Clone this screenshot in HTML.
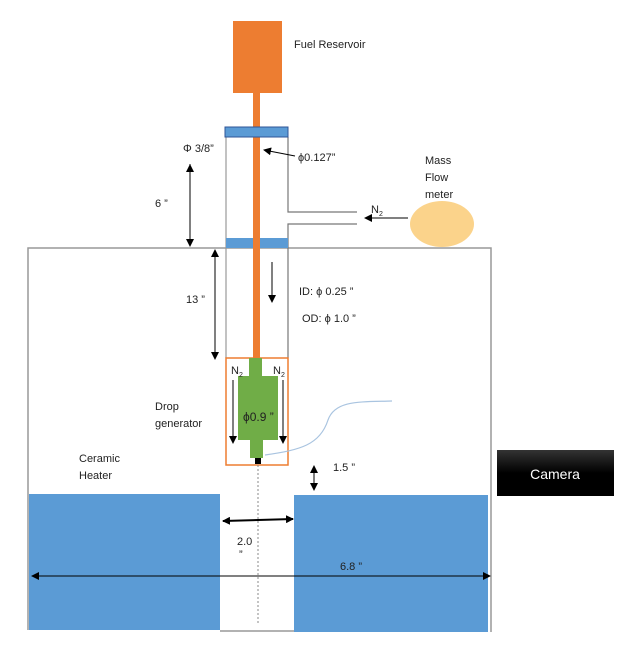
<!DOCTYPE html>
<html><head><meta charset="utf-8"><style>
html,body{margin:0;padding:0;background:#fff;}
svg{display:block;font-family:"Liberation Sans",sans-serif;}
</style></head><body>
<svg width="631" height="651" viewBox="0 0 631 651" xmlns="http://www.w3.org/2000/svg">
<defs>
<marker id="a" markerWidth="8" markerHeight="8" refX="7" refY="4" orient="auto" markerUnits="userSpaceOnUse"><path d="M0,0 L8,4 L0,8 z" fill="#000"/></marker>
<linearGradient id="cg" x1="0" y1="0" x2="0" y2="1"><stop offset="0" stop-color="#333"/><stop offset="0.5" stop-color="#000"/><stop offset="1" stop-color="#000"/></linearGradient>
</defs>
<!-- main box -->
<path d="M28,630 L28,248 L491,248 L491,632" fill="none" stroke="#999" stroke-width="1.5"/>
<line x1="220" y1="631" x2="294" y2="631" stroke="#999" stroke-width="1.5"/>
<!-- heaters -->
<rect x="29" y="494" width="191" height="136" fill="#5b9bd5"/>
<rect x="294" y="495" width="194" height="137" fill="#5b9bd5"/>
<!-- reservoir -->
<rect x="233" y="21" width="49" height="72" fill="#ed7d31"/>
<rect x="253" y="93" width="7" height="265" fill="#ed7d31"/>
<!-- tube walls -->
<path d="M226,137 L226,358" stroke="#999" stroke-width="1.2" fill="none"/>
<path d="M288,137 L288,212 L357,212" stroke="#777" stroke-width="1.2" fill="none"/>
<path d="M357,224 L288,224 L288,358" stroke="#777" stroke-width="1.2" fill="none"/>
<!-- caps -->
<rect x="225" y="127" width="63" height="10" fill="#5b9bd5" stroke="#2f5597" stroke-width="1"/>
<rect x="226" y="238" width="62" height="10" fill="#5b9bd5"/>
<rect x="253" y="127" width="7" height="10" fill="#ed7d31" opacity="0"/>
<rect x="253" y="238" width="7" height="10" fill="#ed7d31"/>
<!-- drop generator -->
<rect x="226" y="358" width="62" height="107" fill="none" stroke="#ed7d31" stroke-width="1.5"/>
<rect x="249" y="358" width="13" height="18" fill="#70ad47"/>
<rect x="238" y="376" width="40" height="64" fill="#70ad47"/>
<rect x="250" y="440" width="13" height="18" fill="#70ad47"/>
<rect x="255" y="458" width="6" height="6" fill="#000"/>
<line x1="258" y1="465" x2="258" y2="625" stroke="#888" stroke-dasharray="2,2"/>
<path d="M265,455 C300,450 320,445 328,420 C335,400 360,402 392,401" fill="none" stroke="#a9c4e0" stroke-width="1.2"/>
<!-- camera -->
<rect x="497" y="450" width="117" height="46" fill="url(#cg)"/>
<text x="555" y="479" fill="#fff" font-size="14" text-anchor="middle">Camera</text>
<!-- mass flow meter -->
<ellipse cx="442" cy="224" rx="32" ry="23" fill="#fbd38b"/>
<line x1="408" y1="218" x2="365" y2="218" stroke="#000" marker-end="url(#a)"/>
<!-- arrows -->
<line x1="295" y1="156" x2="264" y2="150" stroke="#000" marker-end="url(#a)"/>
<line x1="190" y1="165" x2="190" y2="164" stroke="#000"/>
<line x1="190" y1="172" x2="190" y2="165" stroke="#000" marker-end="url(#a)"/>
<line x1="190" y1="172" x2="190" y2="246" stroke="#000" marker-end="url(#a)"/>
<line x1="215" y1="300" x2="215" y2="250" stroke="#000" marker-end="url(#a)"/>
<line x1="215" y1="300" x2="215" y2="359" stroke="#000" marker-end="url(#a)"/>
<line x1="272" y1="262" x2="272" y2="302" stroke="#000" marker-end="url(#a)"/>
<line x1="233" y1="380" x2="233" y2="443" stroke="#000" marker-end="url(#a)"/>
<line x1="283" y1="380" x2="283" y2="443" stroke="#000" marker-end="url(#a)"/>
<line x1="314" y1="478" x2="314" y2="466" stroke="#000" marker-end="url(#a)"/>
<line x1="314" y1="478" x2="314" y2="490" stroke="#000" marker-end="url(#a)"/>
<line x1="258" y1="520" x2="223" y2="521" stroke="#000" stroke-width="2" marker-end="url(#a)"/>
<line x1="258" y1="520" x2="293" y2="519" stroke="#000" stroke-width="2" marker-end="url(#a)"/>
<line x1="260" y1="576" x2="32" y2="576" stroke="#000" marker-end="url(#a)"/>
<line x1="260" y1="576" x2="490" y2="576" stroke="#000" marker-end="url(#a)"/>
<!-- labels -->
<g font-size="11" fill="#222">
<text x="294" y="48">Fuel Reservoir</text>
<text x="183" y="152">Φ 3/8”</text>
<text x="298" y="161">ϕ0.127”</text>
<text x="425" y="164">Mass</text>
<text x="425" y="181">Flow</text>
<text x="425" y="198">meter</text>
<text x="371" y="213">N<tspan font-size="7" dy="3">2</tspan></text>
<text x="155" y="207">6 ”</text>
<text x="186" y="303">13 ”</text>
<text x="299" y="295">ID: ϕ 0.25 ”</text>
<text x="302" y="322">OD: ϕ 1.0 ”</text>
<text x="231" y="374">N<tspan font-size="7" dy="3">2</tspan></text>
<text x="273" y="374">N<tspan font-size="7" dy="3">2</tspan></text>
<text x="243" y="421" font-size="12">ϕ0.9 ”</text>
<text x="155" y="410">Drop</text>
<text x="155" y="427">generator</text>
<text x="79" y="462">Ceramic</text>
<text x="79" y="479">Heater</text>
<text x="333" y="471">1.5 ”</text>
<text x="237" y="545">2.0</text>
<text x="239" y="558">”</text>
<text x="340" y="570">6.8 ”</text>
</g>
</svg>
</body></html>
